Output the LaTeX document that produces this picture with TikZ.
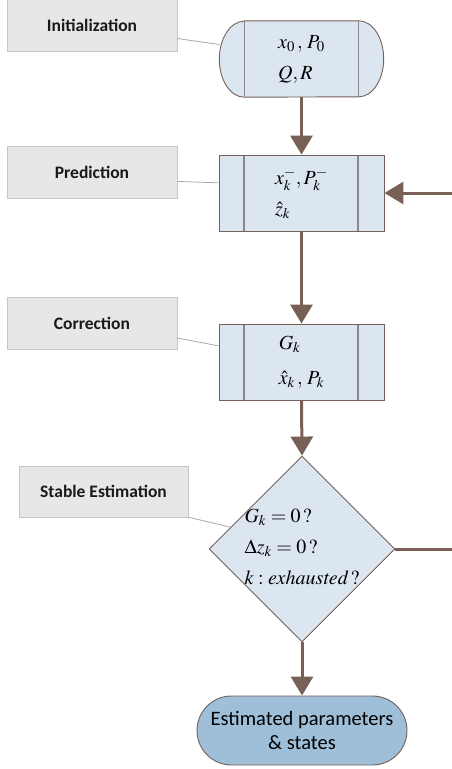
\documentclass[tikz,border=0pt]{standalone}
\usepackage{mathptmx}
\usepackage{fontspec}
\setmainfont{Carlito}
\usetikzlibrary{arrows.meta,shapes.geometric,shapes.misc}

\definecolor{boxfill}{RGB}{219,230,241}
\definecolor{termfill}{RGB}{159,190,216}
\definecolor{edgebrown}{RGB}{118,97,88}
\definecolor{flowbrown}{RGB}{121,96,86}
\definecolor{lblfill}{RGB}{232,230,231}
\definecolor{lbldraw}{RGB}{200,198,199}
\definecolor{splitgray}{RGB}{140,136,136}
\definecolor{calloutgray}{RGB}{170,168,168}

\tikzset{
  lblbox/.style={draw=lbldraw, fill=lblfill, minimum width=170pt, minimum height=52pt,
    inner sep=0pt, text=black!90, font=\fontsize{17.5}{20}\selectfont\bfseries},
  mtext/.style={align=left, inner sep=0pt, font=\fontsize{20}{31}\selectfont},
  splitlines/.style={path picture={
      \draw[splitgray, line width=1.3pt]
        ([xshift=25pt]path picture bounding box.north west) -- ([xshift=25pt]path picture bounding box.south west)
        ([xshift=-26pt]path picture bounding box.north east) -- ([xshift=-26pt]path picture bounding box.south east);}},
  procbox/.style={draw=edgebrown, fill=boxfill, line width=0.9pt, minimum width=165pt,
    minimum height=76pt, inner sep=0pt, splitlines, mtext},
  decbox/.style={diamond, draw=edgebrown, fill=boxfill, line width=0.9pt, aspect=1,
    minimum width=186pt, minimum height=186pt, inner sep=0pt},
  termbox/.style={rounded rectangle, draw=edgebrown, fill=termfill, line width=0.9pt,
    minimum width=210pt, minimum height=69pt, inner sep=0pt, align=center,
    font=\fontsize{20.5}{24.5}\selectfont},
  flow/.style={draw=flowbrown, line width=3pt, -{Triangle[width=22pt,length=19pt]}},
  flowline/.style={draw=flowbrown, line width=3pt},
  callout/.style={draw=calloutgray, line width=0.8pt},
}

\begin{document}
\begin{tikzpicture}[x=1pt,y=1pt]
\useasboundingbox (0,0) rectangle (451,-769);

% step labels on the left
\node[lblbox] (initlbl) at (92,-25) {Initialization};
\node[lblbox] (predlbl) at (92,-172.5) {Prediction};
\node[lblbox] (corrlbl) at (92,-323) {Correction};
\node[lblbox, minimum width=169pt, minimum height=51pt] (stablbl) at (103.5,-491.5) {Stable Estimation};

% initialization terminal
\node[minimum width=164pt, minimum height=76pt, inner sep=0pt] (init) at (301.5,-59) {};
\draw[edgebrown, fill=boxfill, line width=0.9pt]
  ([xshift=25pt]init.north west) -- ([xshift=-25pt]init.north east)
  arc[start angle=90, end angle=-90, x radius=25pt, y radius=38pt]
  -- ([xshift=25pt]init.south west)
  arc[start angle=270, end angle=90, x radius=25pt, y radius=38pt] -- cycle;
\draw[splitgray, line width=1.3pt]
  ([xshift=25pt]init.north west) -- ([xshift=25pt]init.south west)
  ([xshift=-25pt]init.north east) -- ([xshift=-25pt]init.south east);
\node[mtext] (inittxt) at (init) {$x_0\,,\,P_0$\\$Q,R$};

% prediction and correction
\node[procbox] (pred) at (301.5,-193) {$x_k^-,P_k^-$\\$\hat{z}_k$};
\node[procbox, font=\fontsize{20}{35}\selectfont] (corr) at (301.5,-362) {$G_k$\\$\hat{x}_k\,,\,P_k$};

% stable estimation test
\node[decbox] (stab) at (302,-549) {};
\node[mtext] (stabtxt) at (302,-547) {$G_k=0\,?$\\$\Delta z_k=0\,?$\\$k:\mathit{exhausted}\,?$};

% final result
\node[termbox] (final) at (302,-730.5) {Estimated parameters\\\& states};

% flow
\draw[flow] (init.south) -- (pred.north);
\draw[flow] (pred.south) -- (corr.north);
\draw[flow] (corr.south) -- (stab.north);
\draw[flow] (stab.south) -- (final.north);

% loop back (runs off the right edge)
\coordinate (loopin) at (452,-193);
\coordinate (loopout) at (452,-549);
\draw[flow] (loopin) -- (pred.east);
\draw[flowline] (stab.east) -- (loopout);

% callout lines
\draw[callout] (initlbl.-9.4) -- (init.170.9);
\draw[callout] (predlbl.-6.4) -- (pred.173.8);
\draw[callout] (corrlbl.-10.7) -- (corr.169.7);
\draw[callout] (stablbl.south east) -- (stab.163);
\end{tikzpicture}
\end{document}
